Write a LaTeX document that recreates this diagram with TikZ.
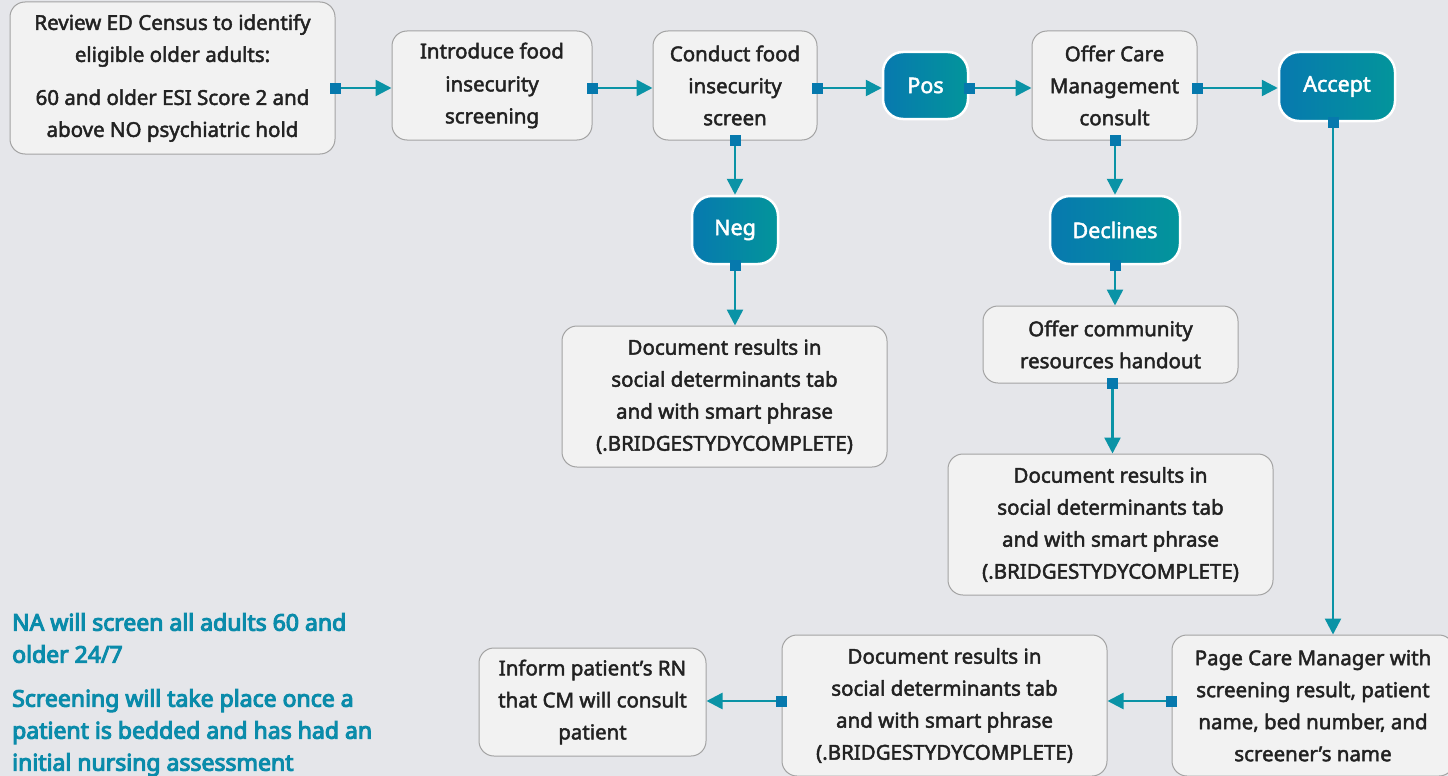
\documentclass[tikz,border=0pt]{standalone}
\usepackage{fontspec}
\setmainfont{Noto Sans}
\newfontfamily\medfont{Noto Sans}[FakeBold=2.2]
\newfontfamily\heavyfont{Noto Sans}[FakeBold=4.5]
\usetikzlibrary{arrows.meta,calc}
\definecolor{bg}{HTML}{E5E6EA}
\definecolor{boxfill}{HTML}{F2F2F2}
\definecolor{boxline}{HTML}{A3A3A3}
\definecolor{txt}{HTML}{222222}
\definecolor{tealL}{HTML}{0779AF}
\definecolor{tealR}{HTML}{03959B}
\definecolor{lineC}{HTML}{0A93A6}
\definecolor{sqC}{HTML}{0679AD}
\definecolor{noteC}{HTML}{0A8BAA}
\newcommand{\boxfont}{\fontsize{20.5}{32}\medfont}
\newcommand{\notefont}{\fontsize{23}{32}\heavyfont}
\tikzset{
  gbox/.style={draw=boxline, fill=boxfill, rounded corners=15pt, line width=1pt,
    align=center, font=\boxfont, inner sep=0pt, text=txt},
  tbox/.style={draw=white, left color=tealL, right color=tealR, rounded corners=20pt,
    line width=2.5pt, align=center, font=\fontsize{21.5}{24}\medfont, inner sep=0pt, text=white},
  conn/.style={draw=lineC, line width=2.5pt, shorten <=-5.5pt,
    {Square[length=11pt,width=11pt,color=sqC]}-{Triangle[length=16pt,width=16pt,color=lineC]}},
}
\begin{document}
\begin{tikzpicture}[x=1pt,y=-1pt]
\fill[bg] (0,0) rectangle (1448,776);
\useasboundingbox (0,0) rectangle (1448,776);

\node[gbox, minimum width=325pt, minimum height=152pt] (review) at (172.5,78)
  {Review ED Census to identify\\ eligible older adults:\\[11pt] 60 and older ESI Score 2 and\\ above NO psychiatric hold};
\node[gbox, minimum width=200pt, minimum height=109pt] (intro) at (492,85.5)
  {\raisebox{1pt}{Introduce food}\\ insecurity\\ screening};
\node[gbox, minimum width=164pt, minimum height=109pt] (conduct) at (735,85.5)
  {Conduct food\\ insecurity\\ screen};
\node[tbox, minimum width=85pt, minimum height=67pt] (pos) at (925.5,85.5) {Pos};
\node[gbox, minimum width=165pt, minimum height=109pt] (offer) at (1114.5,85.5)
  {Offer Care\\ Management\\ consult};
\node[tbox, minimum width=116pt, minimum height=69pt] (accept) at (1337,86.5) {Accept};
\node[tbox, minimum width=86pt, minimum height=68pt] (neg) at (735,230) {\raisebox{-1pt}{Neg}};
\node[tbox, minimum width=130pt, minimum height=68pt] (declines) at (1115,230) {Declines};
\node[gbox, minimum width=325pt, minimum height=141pt] (doc1) at (724.5,396.5)
  {Document results in\\ social determinants tab\\ and with smart phrase\\ (.BRIDGESTYDYCOMPLETE)};
\node[gbox, minimum width=255pt, minimum height=77pt] (comm) at (1110.5,344.5)
  {Offer community\\ resources handout};
\node[gbox, minimum width=325pt, minimum height=141pt] (doc2) at (1110.5,524.5)
  {Document results in\\ social determinants tab\\ and with smart phrase\\ (.BRIDGESTYDYCOMPLETE)};
\node[gbox, minimum width=282pt, minimum height=141pt] (page) at (1313,705.5)
  {Page Care Manager with\\ screening result, patient\\ name, bed number, and\\ screener’s name};
\node[gbox, minimum width=325pt, minimum height=141pt] (doc3) at (944.5,705.5)
  {Document results in\\ social determinants tab\\ and with smart phrase\\ (.BRIDGESTYDYCOMPLETE)};
\node[gbox, minimum width=227pt, minimum height=108pt] (inform) at (592.5,702)
  {Inform patient’s RN\\ that CM will consult\\ patient};

\node[anchor=north west, align=left, font=\notefont, text=noteC, inner sep=0pt] (note) at (12,613)
  {NA will screen all adults 60 and\\ older 24/7\\[12pt] Screening will take place once a\\ patient is bedded and has had an\\ initial nursing assessment};

\draw[conn] (review.east |- 0,88) -- (intro.west |- 0,88);
\draw[conn] (intro.east |- 0,88) -- (conduct.west |- 0,88);
\draw[conn] (conduct.east |- 0,88) -- (pos.west |- 0,88);
\draw[conn] (pos.east |- 0,88) -- (offer.west |- 0,88);
\draw[conn] (offer.east |- 0,88) -- (accept.west |- 0,88);
\draw[conn] (conduct.south) -- (neg.north);
\draw[conn] (neg.south) -- (doc1.north -| neg.south);
\draw[conn] (offer.south -| declines.north) -- (declines.north);
\draw[conn] (declines.south) -- (comm.north -| declines.south);
\draw[conn] ([xshift=2pt]comm.south) -- ([xshift=2pt]doc2.north);
\draw[conn] ([xshift=-4pt]accept.south) -- ([xshift=-4pt]accept.south |- page.north);
\draw[conn] (page.west |- 0,701) -- (doc3.east |- 0,701);
\draw[conn] (doc3.west |- 0,701) -- (inform.east |- 0,701);
\end{tikzpicture}
\end{document}
